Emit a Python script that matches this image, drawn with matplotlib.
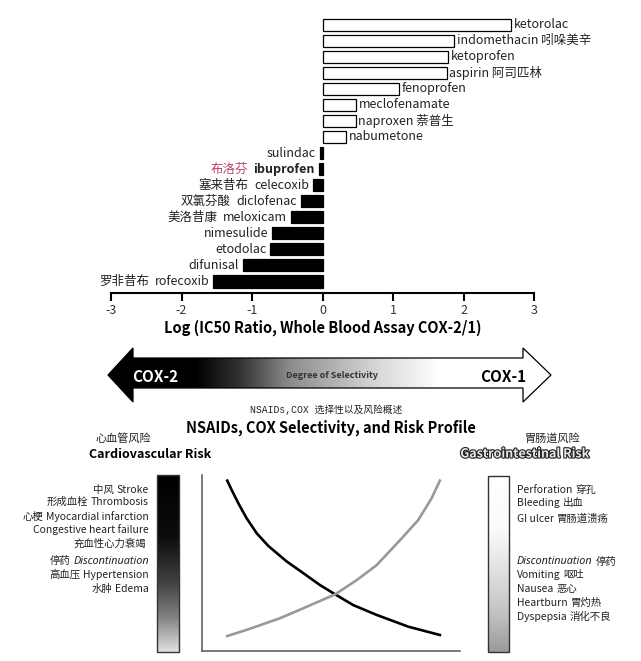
import matplotlib
matplotlib.use('Agg')
import matplotlib.pyplot as plt
import matplotlib.patheffects as pe
from matplotlib.patches import Polygon, Rectangle
import numpy as np

plt.rcParams['font.family'] = ['Noto Sans CJK SC', 'DejaVu Sans']

# --- data -------------------------------------------------------------
drugs = ['ketorolac', 'indomethacin', 'ketoprofen', 'aspirin', 'fenoprofen',
         'meclofenamate', 'naproxen', 'nabumetone', 'sulindac', 'ibuprofen',
         'celecoxib', 'diclofenac', 'meloxicam', 'nimesulide', 'etodolac',
         'difunisal', 'rofecoxib']
drugs_cn = ['', '吲哚美辛', '', '阿司匹林', '', '', '萘普生', '', '', '布洛芬',
            '塞来昔布', '双氯芬酸', '美洛昔康', '', '', '', '罗非昔布']
log_ratio = [2.67, 1.87, 1.78, 1.76, 1.08, 0.47, 0.47, 0.33, -0.03, -0.05,
             -0.13, -0.30, -0.44, -0.71, -0.74, -1.13, -1.55]
xticks = [-3, -2, -1, 0, 1, 2, 3]

# risk curves (selectivity axis 0..10, relative risk 0..10)
cv_x = [0.98, 1.15, 1.41, 1.73, 2.12, 2.57, 3.28, 3.93, 4.57, 5.16, 5.86, 6.77, 8.00, 9.22]
cv_y = [9.68, 9.15, 8.39, 7.54, 6.69, 5.97, 5.09, 4.42, 3.75, 3.22, 2.61, 2.05, 1.38, 0.91]
gi_x = [0.98, 1.79, 3.02, 3.93, 5.16, 6.00, 6.77, 7.74, 8.38, 8.90, 9.22]
gi_y = [0.85, 1.23, 1.86, 2.43, 3.22, 4.03, 4.88, 6.40, 7.44, 8.68, 9.68]

cv_cn = ['中风', '形成血栓', '心梗', '', '充血性心力衰竭', '停药', '高血压', '水肿']
cv_en = ['Stroke', 'Thrombosis', 'Myocardial infarction', 'Congestive heart failure',
         '', 'Discontinuation', 'Hypertension', 'Edema']
gi_en = ['Perforation', 'Bleeding', 'GI ulcer', 'Discontinuation', 'Vomiting',
         'Nausea', 'Heartburn', 'Dyspepsia']
gi_cn = ['穿孔', '出血', '胃肠道溃疡', '停药', '呕吐', '恶心', '胃灼热', '消化不良']

W, H = 641, 661
fig = plt.figure(figsize=(W / 100, H / 100), dpi=100)


def fx(x):
    return x / W


def fy(y):
    return 1 - y / H


def en_style(en):
    # italic needs a family that really has an italic face
    if en == 'Discontinuation':
        return dict(style='italic', family=['Noto Sans', 'DejaVu Sans'], fontsize=7.8)
    return dict(fontsize=7.5)


# overlay in pixel coordinates for the diagram parts
ov = fig.add_axes([0, 0, 1, 1])
ov.axis('off')

# --- bar chart --------------------------------------------------------
ax = fig.add_axes([fx(111), fy(293), (534 - 111) / W, (293 - 14.9) / H])
rows = np.arange(len(drugs))
colors = ['white' if v > 0 else 'black' for v in log_ratio]
ax.barh(rows, log_ratio, height=0.75, color=colors, edgecolor='black', linewidth=0.9)
ax.set_xlim(-3, 3)
ax.set_ylim(16.716, -0.6)
for s in ['top', 'right', 'left']:
    ax.spines[s].set_visible(False)
ax.spines['bottom'].set_linewidth(1.5)
ax.set_yticks([])
ax.set_xticks(xticks)
ax.set_xticklabels([str(t) for t in xticks])
ax.tick_params(axis='x', length=6, width=1.5, labelsize=9, labelcolor='#333', pad=2)
ax.set_xlabel('Log (IC50 Ratio, Whole Blood Assay COX-2/1)', fontsize=10.5,
              fontweight='bold', labelpad=2)
ax.patch.set_alpha(0)

for i, (name, cn, v) in enumerate(zip(drugs, drugs_cn, log_ratio)):
    if v > 0:
        txt = name + (' ' + cn if cn else '')
        ax.annotate(txt, xy=(v, i), xytext=(2, 0), textcoords='offset points',
                    ha='left', va='center', fontsize=9, color='#222')
    else:
        en = ax.annotate(name, xy=(v, i), xytext=(-3, 0), textcoords='offset points',
                         ha='right', va='center', fontsize=9, color='#222',
                         fontweight='bold' if name == 'ibuprofen' else 'normal')
        if cn:
            ax.annotate(cn, xy=(0, 0.5), xycoords=en, xytext=(-4, 0),
                        textcoords='offset points', ha='right', va='center',
                        fontsize=9, color='#c0406a' if name == 'ibuprofen' else '#222')

# --- selectivity arrow ------------------------------------------------
arrow_pts = [(108, 375), (133, 348), (133, 358), (523, 358), (523, 348), (551, 375),
             (523, 402), (523, 388), (133, 388), (133, 402)]
poly = Polygon(arrow_pts, closed=True, facecolor='none', edgecolor='black', lw=0.9, zorder=3)
ov.add_patch(poly)
cols = np.linspace(108, 551, 400)
grad = np.interp(cols, [108, 195, 240, 290, 380, 440, 551], [0, 0, 0.2, 0.55, 0.85, 1, 1])
im = ov.imshow(grad[None, :], cmap='gray', vmin=0, vmax=1, aspect='auto',
               extent=[108, 551, 402, 348], zorder=2)
im.set_clip_path(poly)
ov.text(155, 377, 'COX-2', color='white', fontsize=11, fontweight='bold',
        ha='center', va='center', zorder=4)
ov.text(332, 376, 'Degree of Selectivity', color='#333', fontsize=6.5,
        fontweight='bold', ha='center', va='center', zorder=4)
ov.text(503, 377, 'COX-1', color='black', fontsize=11, fontweight='bold',
        ha='center', va='center', zorder=4)

# --- titles -----------------------------------------------------------
ov.text(326, 410, 'NSAIDs,COX 选择性以及风险概述', fontsize=7,
        family=['Liberation Mono', 'Noto Sans CJK SC'], ha='center', va='center', color='#222')
ov.text(331, 428, 'NSAIDs, COX Selectivity, and Risk Profile', fontsize=10.5,
        fontweight='bold', ha='center', va='center')
ov.text(123, 438, '心血管风险', fontsize=8, ha='center', va='center', color='#222')
ov.text(150, 455, 'Cardiovascular Risk', fontsize=9, fontweight='bold',
        ha='center', va='center')
ov.text(552, 438, '胃肠道风险', fontsize=8, ha='center', va='center', color='#222')
ov.text(525, 454, 'Gastrointestinal Risk', fontsize=9, fontweight='bold',
        ha='center', va='center', color='#e8e8e8',
        path_effects=[pe.withStroke(linewidth=1.6, foreground='#222')])

# --- gradient risk bars -----------------------------------------------
rows_px = np.linspace(0, 1, 200)
cv_grad = np.interp(rows_px, [0, 0.35, 0.6, 0.8, 1.0], [0, 0.05, 0.25, 0.5, 0.88])
gi_grad = np.interp(rows_px, [0, 0.3, 0.6, 0.8, 1.0], [1.0, 0.98, 0.85, 0.75, 0.6])
ov.imshow(cv_grad[:, None], cmap='gray', vmin=0, vmax=1, aspect='auto',
          extent=[157, 179, 652, 475], zorder=2)
ov.add_patch(Rectangle((157, 475), 22, 177, fill=False, edgecolor='#333', lw=1, zorder=3))
ov.imshow(gi_grad[:, None], cmap='gray', vmin=0, vmax=1, aspect='auto',
          extent=[488, 509, 652, 476], zorder=2)
ov.add_patch(Rectangle((488, 476), 21, 176, fill=False, edgecolor='#333', lw=1, zorder=3))

# risk lists
cv_ys = [490, 502, 517, 530, 543, 561, 575, 589]
for cn, en, y in zip(cv_cn, cv_en, cv_ys):
    if en:
        t = ov.text(149, y, en, ha='right', va='center', color='#222', **en_style(en))
        if cn:
            ov.annotate(cn, xy=(0, 0.5), xycoords=t, xytext=(-2, 0),
                        textcoords='offset points', ha='right', va='center',
                        fontsize=7.5, color='#222')
    else:
        ov.text(146, y, cn, fontsize=7.5, ha='right', va='center', color='#222')

gi_ys = [490, 503, 519, 562, 575, 589, 603, 617]
for en, cn, y in zip(gi_en, gi_cn, gi_ys):
    t = ov.text(517, y, en, ha='left', va='center', color='#222', **en_style(en))
    ov.annotate(cn, xy=(1, 0.5), xycoords=t, xytext=(2, 0),
                textcoords='offset points', ha='left', va='center',
                fontsize=7.5, color='#222')

ov.set_xlim(0, W)
ov.set_ylim(H, 0)

# --- risk curves ------------------------------------------------------
ax2 = fig.add_axes([fx(202), fy(651), (460 - 202) / W, (651 - 475) / H])
ax2.plot(cv_x, cv_y, color='black', lw=1.9, solid_joinstyle='round')
ax2.plot(gi_x, gi_y, color='#999999', lw=1.9, solid_joinstyle='round')
ax2.set_xlim(0, 10)
ax2.set_ylim(0, 10)
ax2.set_xticks([])
ax2.set_yticks([])
for s in ['top', 'right']:
    ax2.spines[s].set_visible(False)
for s in ['left', 'bottom']:
    ax2.spines[s].set_color('#555')
    ax2.spines[s].set_linewidth(1.1)
ax2.patch.set_alpha(0)

fig.savefig('out.png', dpi=100)
